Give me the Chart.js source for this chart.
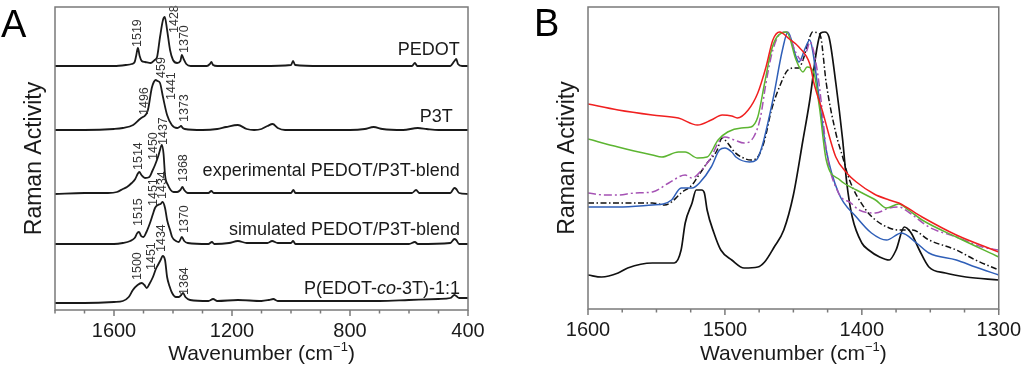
<!DOCTYPE html>
<html>
<head>
<meta charset="UTF-8" />
<title>Raman spectra</title>
<script src="https://cdn.jsdelivr.net/npm/chart.js"></script>
<style>
body { margin: 0; background: #fff; }
.panel { position: absolute; top: 0; height: 378px; }
#panelA { left: 0; width: 520px; }
#panelB { left: 520px; width: 504px; }
</style>
</head>
<body>
<div class="panel" id="panelA"><canvas id="chartA" width="520" height="378"></canvas></div>
<div class="panel" id="panelB"><canvas id="chartB" width="504" height="378"></canvas></div>
<script>
// ---- panel A: stacked spectra (wavenumber, intensity in a.u. incl. offset)
const pedotWn = [1800,1700,1600,1560,1540,1530,1525,1519,1513,1506,1495,1475,1462,1454,1444,1434,1428,1420,1410,1400,1386,1375,1370,1364,1355,1340,1285,1275,1270,1264,1250,1100,1000,993,986,900,700,590,580,572,460,446,440,434,420,400];
const pedotVal = [244,244,244,245,246,248,254,262,254,249,248,247,250,253,273,290,293,280,260,250,247,249,255,251,246,244,244,246,248,245,244,244,245,249,245,244,244,244,247,244,244,249,251,246,244,244];

const p3tWn = [1800,1700,1600,1570,1535,1512,1502,1496,1485,1472,1465,1459,1452,1444,1434,1420,1404,1386,1378,1373,1367,1360,1300,1250,1220,1180,1150,1125,1100,1080,1062,1045,1020,900,800,750,720,690,620,570,540,500,400];
const p3tVal = [180,180,181,182,185,191,193,194,200,222,228,230,229,227,213,195,185,182,183,184,182,181,180,181,183,185,181,180,181,184,186,182,180,180,180,181,183,181,180,182,181,180,180];

const expWn = [1800,1700,1620,1590,1570,1556,1540,1528,1520,1514,1507,1495,1480,1470,1461,1451,1444,1438,1432,1427,1417,1408,1398,1386,1375,1368,1362,1350,1280,1270,1262,1000,992,985,590,576,565,460,446,440,430,400];
const expVal = [116,117,117,118,121,123,127,131,136,138,135,132,133,139,145,153,160,165,156,135,125,120,118,118,120,123,120,117,117,119,117,117,120,117,117,120,117,117,122,121,117,116];

const simWn = [1800,1700,1600,1570,1545,1530,1521,1515,1508,1500,1490,1478,1468,1461,1451,1442,1435,1427,1420,1410,1403,1390,1380,1370,1362,1350,1280,1268,1260,1210,1180,1150,1080,1064,1045,1000,993,985,600,580,570,460,446,440,430,400];
const simVal = [66,66,66,67,69,72,77,78,74,73,78,87,96,102,105,106,108,102,90,80,73,69,68,73,69,67,66,68,66,67,69,67,67,69,67,67,69,66,66,68,66,67,71,70,66,66];

const pcoWn = [1800,1700,1600,1570,1550,1536,1520,1506,1497,1489,1480,1468,1458,1451,1442,1435,1427,1420,1412,1403,1390,1380,1372,1366,1358,1342,1280,1264,1250,1180,1100,1075,1060,1045,900,700,600,500,460,446,440,430,400];
const pcoVal = [7,7,8,9,13,20,25,27,25,22,26,33,41,45,50,54,50,33,24,17,13,13,15,17,13,10,9,11,9,10,9,10,11,9,9,9,10,11,12,15,14,12,12];

// trace names: text, right end (wavenumber), baseline (a.u.)
const traceNamesA = [
    ['PEDOT', 428, 255],
    ['P3T', 452, 188],
    ['experimental PEDOT/P3T-blend', 428, 134],
    ['simulated PEDOT/P3T-blend', 427, 75],
    ['P(EDOT-co-3T)-1:1', 427, 16]
];
// peak labels: text, wavenumber, intensity where the label starts
const peakLabelsA = [
    ['1519', 1519, 263], ['1428', 1394, 277], ['1370', 1360, 257],
    ['459', 1438, 232], ['1441', 1404, 210], ['1496', 1496, 195], ['1373', 1360, 188],
    ['1514', 1516, 140], ['1450', 1465, 150], ['1437', 1431, 165], ['1368', 1363, 128],
    ['1515', 1516, 84], ['1451', 1465, 104], ['1434', 1435, 111], ['1370', 1360, 77],
    ['1500', 1519, 30], ['1451', 1472, 40], ['1434', 1438, 58], ['1364', 1360, 15]
];

// ---- panel B: normalised spectra, 1600-1300
const redWn = [1600,1578,1553,1534,1520,1510,1502,1495,1491,1483,1476,1470,1465,1460,1453,1446,1438,1435,1429,1419,1411,1404,1391,1380,1373,1356,1331,1300];
const redVal = [205,199,194,191,184,189,194,193,191,199,216,242,269,277,270,262,245,226,199,152,136,127,115,109,106,92,74,57];

const greenWn = [1600,1578,1553,1546,1534,1529,1520,1513,1505,1498,1488,1481,1476,1471,1466,1462,1455,1448,1443,1440,1435,1431,1426,1416,1404,1390,1382,1373,1366,1356,1331,1300];
const greenVal = [170,162,154,152,157,157,151,152,169,177,181,182,192,226,259,272,277,249,237,242,236,202,149,129,119,109,101,105,99,89,72,52];

const purpleWn = [1600,1588,1578,1566,1553,1541,1529,1524,1517,1510,1505,1500,1493,1486,1479,1474,1470,1465,1459,1455,1448,1444,1440,1438,1433,1429,1426,1417,1408,1402,1390,1380,1373,1365,1351,1331,1312,1300];
const purpleVal = [116,114,114,116,117,126,134,131,139,152,166,172,169,166,172,192,226,259,276,277,256,249,259,267,242,199,159,116,106,99,96,101,102,96,82,72,62,59];

const blueWn = [1600,1578,1553,1545,1539,1532,1524,1518,1510,1504,1500,1495,1492,1482,1477,1473,1465,1458,1454,1448,1446,1441,1438,1436,1431,1426,1417,1404,1393,1382,1371,1360,1351,1331,1317,1300];
const blueVal = [102,102,104,105,109,121,121,127,142,159,161,157,152,147,149,162,209,259,277,252,247,262,269,259,209,159,116,92,76,69,76,66,56,49,42,34];

const blackDashWn = [1600,1578,1553,1544,1539,1532,1524,1520,1513,1506,1502,1498,1493,1488,1481,1476,1471,1466,1459,1454,1449,1446,1443,1438,1436,1432,1430,1426,1419,1414,1409,1397,1390,1380,1373,1363,1351,1331,1317,1300];
const blackDashVal = [106,106,106,104,107,116,124,132,146,158,171,166,157,152,149,152,169,199,226,239,241,241,249,272,277,276,272,226,176,152,129,99,89,81,79,79,69,59,49,39];

const blackWn = [1600,1590,1578,1571,1553,1544,1537,1532,1529,1524,1521,1517,1515,1513,1508,1503,1495,1486,1476,1471,1464,1457,1450,1443,1438,1433,1430,1427,1424,1419,1414,1411,1407,1400,1395,1387,1380,1375,1369,1364,1358,1351,1339,1324,1300];
const blackVal = [34,32,36,41,46,46,46,59,86,106,119,119,116,99,76,59,49,41,42,47,62,79,114,169,209,259,276,277,272,226,169,126,92,66,59,52,49,59,82,76,59,42,36,32,29];

const FONT = "'Liberation Sans', Arial, Helvetica, sans-serif";
const INK = '#1a1a1a';
const FRAME = '#7a7a7a';

function toPoints(wn, val) {
    return wn.map(function (w, i) { return { x: w, y: val[i] }; });
}

// frame round the plot area and bottom ticks (major longer)
function drawFrame(chart, majorEvery) {
    const ctx = chart.ctx, a = chart.chartArea, xs = chart.scales.x;
    ctx.save();
    ctx.strokeStyle = FRAME;
    ctx.lineWidth = 1.5;
    ctx.strokeRect(a.left, a.top, a.right - a.left, a.bottom - a.top);
    xs.ticks.forEach(function (t) {
        const px = xs.getPixelForValue(t.value);
        const len = t.value % majorEvery === 0 ? 6 : 3.5;
        ctx.beginPath();
        ctx.moveTo(px, a.bottom);
        ctx.lineTo(px, a.bottom + len);
        ctx.stroke();
    });
    ctx.restore();
}

// "Wavenumber (cm-1)" with a raised -1
function drawXTitle(chart, y) {
    const ctx = chart.ctx, a = chart.chartArea;
    const main = 'Wavenumber (cm', sup = '\u22121', tail = ')';
    ctx.save();
    ctx.fillStyle = INK;
    ctx.textBaseline = 'alphabetic';
    ctx.textAlign = 'left';
    ctx.font = '21px ' + FONT;
    const w1 = ctx.measureText(main).width, w3 = ctx.measureText(tail).width;
    ctx.font = '13px ' + FONT;
    const w2 = ctx.measureText(sup).width;
    let x = (a.left + a.right) / 2 - (w1 + w2 + w3) / 2;
    ctx.font = '21px ' + FONT;
    ctx.fillText(main, x, y);
    x += w1;
    ctx.font = '13px ' + FONT;
    ctx.fillText(sup, x, y - 9);
    x += w2;
    ctx.font = '21px ' + FONT;
    ctx.fillText(tail, x, y);
    ctx.restore();
}

function drawYTitle(chart, x) {
    const ctx = chart.ctx, a = chart.chartArea;
    ctx.save();
    ctx.translate(x, (a.top + a.bottom) / 2);
    ctx.rotate(-Math.PI / 2);
    ctx.fillStyle = INK;
    ctx.font = '23px ' + FONT;
    ctx.textAlign = 'center';
    ctx.textBaseline = 'alphabetic';
    ctx.fillText('Raman Activity', 0, 0);
    ctx.restore();
}

function drawLetter(chart, letter, x, y) {
    const ctx = chart.ctx;
    ctx.save();
    ctx.fillStyle = '#000';
    ctx.font = '38px ' + FONT;
    ctx.textAlign = 'left';
    ctx.textBaseline = 'alphabetic';
    ctx.fillText(letter, x, y);
    ctx.restore();
}

const panelAPlugin = {
    id: 'panelA',
    afterDatasetsDraw(chart) {
        const ctx = chart.ctx, xs = chart.scales.x, ys = chart.scales.y;
        ctx.save();
        // rotated peak positions
        ctx.fillStyle = '#333';
        ctx.font = '12.5px ' + FONT;
        ctx.textAlign = 'left';
        ctx.textBaseline = 'middle';
        peakLabelsA.forEach(function (p) {
            ctx.save();
            ctx.translate(xs.getPixelForValue(p[1]), ys.getPixelForValue(p[2]));
            ctx.rotate(-Math.PI / 2);
            ctx.fillText(p[0], 0, 0);
            ctx.restore();
        });
        // sample names, right aligned
        ctx.fillStyle = INK;
        ctx.textBaseline = 'alphabetic';
        traceNamesA.forEach(function (n) {
            const right = xs.getPixelForValue(n[1]), y = ys.getPixelForValue(n[2]);
            let parts = [[n[0], false]];
            if (n[0].indexOf('-co-') >= 0) {
                const i = n[0].indexOf('-co-');
                parts = [[n[0].slice(0, i + 1), false], ['co', true], [n[0].slice(i + 3), false]];
            }
            let total = 0;
            parts.forEach(function (pt) {
                ctx.font = (pt[1] ? 'italic ' : '') + '18px ' + FONT;
                total += ctx.measureText(pt[0]).width;
            });
            let x = right - total;
            ctx.textAlign = 'left';
            parts.forEach(function (pt) {
                ctx.font = (pt[1] ? 'italic ' : '') + '18px ' + FONT;
                ctx.fillText(pt[0], x, y);
                x += ctx.measureText(pt[0]).width;
            });
        });
        ctx.restore();
    },
    afterDraw(chart) {
        drawFrame(chart, 400);
        drawXTitle(chart, 360);
        drawYTitle(chart, 41);
        drawLetter(chart, 'A', 1, 37);
    }
};

const panelBPlugin = {
    id: 'panelB',
    afterDraw(chart) {
        drawFrame(chart, 100);
        drawXTitle(chart, 360);
        drawYTitle(chart, 54);
        drawLetter(chart, 'B', 14, 36);
    }
};

function xAxis(min, max, step, major) {
    return {
        type: 'linear',
        reverse: true,
        min: min,
        max: max,
        border: { display: false },
        grid: { drawOnChartArea: false, drawTicks: true, tickLength: 6, tickColor: 'rgba(0,0,0,0)' },
        ticks: {
            stepSize: step,
            autoSkip: false,
            maxRotation: 0,
            padding: 3,
            color: INK,
            font: { family: FONT, size: 20 },
            callback: function (v) { return v % major === 0 ? String(v) : ''; }
        }
    };
}

function line(wn, val, color, dash, width) {
    return {
        data: toPoints(wn, val),
        borderColor: color,
        borderWidth: width,
        borderDash: dash || [],
        pointRadius: 0,
        fill: false,
        cubicInterpolationMode: 'monotone'
    };
}

new Chart(document.getElementById('chartA').getContext('2d'), {
    type: 'line',
    data: {
        datasets: [
            line(pedotWn, pedotVal, INK, null, 1.8),
            line(p3tWn, p3tVal, INK, null, 1.8),
            line(expWn, expVal, INK, null, 1.8),
            line(simWn, simVal, INK, null, 1.8),
            line(pcoWn, pcoVal, INK, null, 1.8)
        ]
    },
    options: {
        responsive: false,
        animation: false,
        layout: { padding: { left: 55, right: 52, top: 7, bottom: 32 } },
        plugins: { legend: { display: false }, tooltip: { enabled: false } },
        scales: {
            x: xAxis(400, 1800, 100, 400),
            y: { display: false, min: 0, max: 303 }
        }
    },
    plugins: [panelAPlugin]
});

new Chart(document.getElementById('chartB').getContext('2d'), {
    type: 'line',
    data: {
        datasets: [
            line(redWn, redVal, '#f02020', null, 1.5),
            line(greenWn, greenVal, '#5cb531', null, 1.5),
            line(purpleWn, purpleVal, '#a552b4', [8, 3, 2, 3], 1.5),
            line(blueWn, blueVal, '#2f5fb8', null, 1.5),
            line(blackDashWn, blackDashVal, '#111', [6, 2.5, 1.5, 2.5], 1.5),
            line(blackWn, blackVal, '#111', null, 1.7)
        ]
    },
    options: {
        responsive: false,
        animation: false,
        layout: { padding: { left: 68, right: 24, top: 7, bottom: 33 } },
        plugins: { legend: { display: false }, tooltip: { enabled: false } },
        scales: {
            x: xAxis(1300, 1600, 25, 100),
            y: { display: false, min: 0, max: 302 }
        }
    },
    plugins: [panelBPlugin]
});
</script>
</body>
</html>
